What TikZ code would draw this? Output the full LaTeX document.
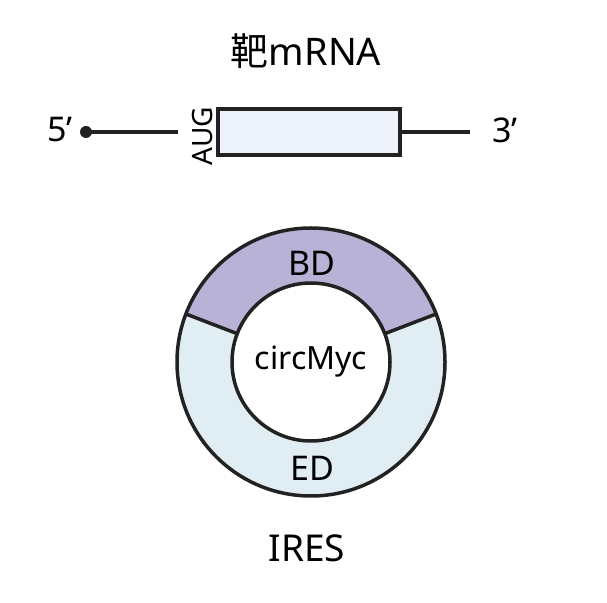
\documentclass[tikz,border=0pt]{standalone}
\usepackage{fontspec}
\setmainfont{Noto Sans}
\newfontfamily\cjk{Noto Sans CJK SC}
\usetikzlibrary{positioning}
\definecolor{linegray}{HTML}{222222}
\definecolor{orfblue}{HTML}{EEF2FA}
\definecolor{bdpurple}{HTML}{B8B3D6}
\definecolor{edblue}{HTML}{E0EEF3}
\newcommand{\primemark}{{\char"27}}
\tikzset{
    big/.style={font=\fontsize{34}{40}\selectfont},
    small/.style={font=\fontsize{28}{32}\selectfont},
    rna/.style={draw=linegray, line width=3.5pt},
}

\begin{document}
\begin{tikzpicture}[x=1pt, y=1pt]
        \useasboundingbox (0,0) rectangle (607,602);
        % mRNA
        \node[font=\fontsize{38}{44}\selectfont] (title) at (306,551) {{\cjk 靶}mRNA};
        \node[rna, fill=orfblue, minimum width=182pt, minimum height=46pt, inner sep=0pt] (orf) at (309,470) {};
        \node[big] (five) at (60,472) {5\primemark};
        \node[big] (three) at (505,472) {3\primemark};
        \node[small, rotate=90] (aug) at (203,466) {AUG};
        \coordinate (cap) at (86,470);
        \coordinate (left) at (178,470);
        \coordinate (right) at (470,470);
        \fill[linegray] (cap) circle (6pt);
        \draw[rna] (cap) -- (left);
        \draw[rna] (orf.east) -- (right);
        % circular RNA
        \begin{scope}[shift={(311,240)}]
            \fill[edblue] (0,0) circle (134);
            \fill[bdpurple] (21:134) arc (21:159:134) -- (159:79) arc (159:21:79) -- cycle;
            \draw[rna] (21:79) -- (21:134);
            \draw[rna] (159:79) -- (159:134);
            \draw[rna] (0,0) circle (134);
        \end{scope}
        \node[rna, circle, fill=white, minimum size=158pt, inner sep=0pt, font=\fontsize{32}{36}\selectfont] (circ) at (311,240) {circMyc};
        \node[big] (bd) at (312,339) {BD};
        \node[big] (ed) at (312,134) {ED};
        \node[font=\fontsize{37}{42}\selectfont] (ires) at (307,54) {IRES};
\end{tikzpicture}
\end{document}
